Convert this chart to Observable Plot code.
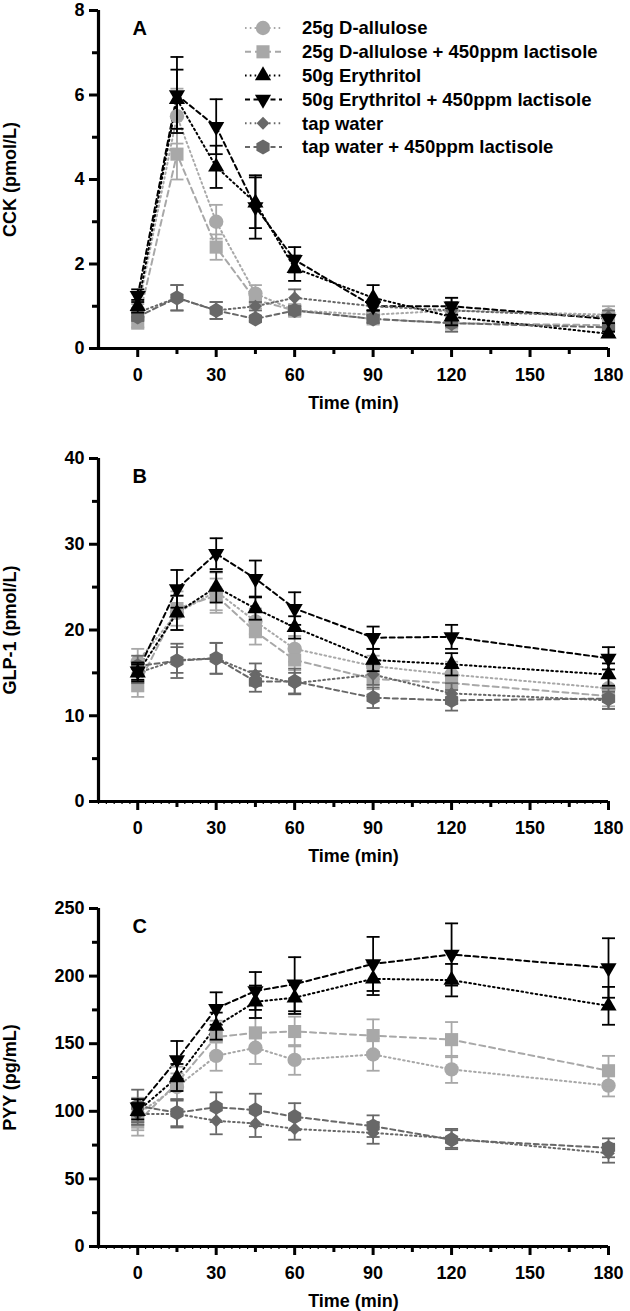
<!DOCTYPE html>
<html><head><meta charset="utf-8">
<script src="https://cdn.jsdelivr.net/npm/d3@7"></script>
<script src="https://cdn.jsdelivr.net/npm/@observablehq/plot@0.6"></script>
<style>
body{margin:0;background:#fff;}
#chart{position:relative;width:630px;height:1311px;overflow:hidden;background:#fff;}
#chart > svg{position:absolute;left:0;}
</style></head><body><div id="chart"></div>
<script>
// ---------- data ----------
const times = [0, 15, 30, 45, 60, 90, 120, 180];
const seriesNames = [
  "25g D-allulose",
  "25g D-allulose + 450ppm lactisole",
  "50g Erythritol",
  "50g Erythritol + 450ppm lactisole",
  "tap water",
  "tap water + 450ppm lactisole"
];
// CCK (pmol/L): rows follow seriesNames
const cckMean = [
  [0.9, 5.5, 3.0, 1.3, 0.9, 0.8, 0.9, 0.8],
  [0.6, 4.6, 2.4, 1.15, 0.9, 0.7, 0.6, 0.55],
  [1.0, 5.9, 4.3, 3.45, 1.9, 1.2, 0.75, 0.35],
  [1.25, 6.0, 5.25, 3.35, 2.1, 1.0, 1.0, 0.7],
  [0.85, 1.2, 0.9, 1.0, 1.2, 1.0, 0.9, 0.75],
  [0.75, 1.2, 0.9, 0.7, 0.9, 0.7, 0.6, 0.5]
];
const cckSem = [
  [0.15, 0.65, 0.4, 0.2, 0.15, 0.1, 0.3, 0.2],
  [0.1, 0.6, 0.3, 0.2, 0.1, 0.1, 0.2, 0.15],
  [0.15, 0.7, 0.5, 0.6, 0.3, 0.3, 0.2, 0.05],
  [0.15, 0.9, 0.65, 0.75, 0.3, 0.1, 0.2, 0.1],
  [0.1, 0.3, 0.2, 0.1, 0.2, 0.1, 0.2, 0.15],
  [0.1, 0.3, 0.2, 0.05, 0.1, 0.1, 0.2, 0.1]
];
// GLP-1 (pmol/L)
const glpMean = [
  [16.3, 22.0, 24.5, 21.0, 17.8, 15.8, 14.8, 13.2],
  [13.5, 22.5, 24.0, 19.8, 16.5, 14.3, 13.8, 12.3],
  [15.0, 22.0, 25.0, 22.5, 20.3, 16.5, 16.0, 14.8],
  [15.2, 24.8, 28.9, 26.0, 22.5, 19.1, 19.2, 16.7],
  [15.0, 16.5, 16.7, 14.8, 13.8, 14.8, 12.6, 11.8],
  [15.8, 16.4, 16.7, 14.0, 14.0, 12.1, 11.8, 12.0]
];
const glpSem = [
  [1.5, 2.0, 2.2, 1.5, 1.5, 1.2, 1.5, 1.2],
  [1.3, 2.0, 2.0, 1.5, 1.2, 1.2, 1.3, 1.2],
  [1.0, 2.0, 1.8, 1.3, 1.3, 1.3, 1.3, 1.3],
  [1.0, 2.2, 1.8, 2.1, 1.9, 1.3, 1.4, 1.3],
  [1.2, 1.5, 1.8, 1.3, 1.2, 1.2, 1.2, 1.0],
  [1.2, 2.0, 1.8, 1.2, 1.5, 1.2, 1.2, 1.2]
];
// PYY (pg/mL)
const pyyMean = [
  [98, 118, 141, 147, 138, 142, 131, 119],
  [92, 121, 155, 158, 159, 156, 153, 130],
  [100, 125, 163, 181, 184, 198, 197, 178],
  [103, 138, 176, 189, 194, 209, 216, 206],
  [98, 98, 93, 91, 87, 84, 80, 69],
  [104, 99, 103, 101, 96, 89, 79, 73]
];
const pyySem = [
  [12, 10, 11, 12, 11, 12, 10, 8],
  [10, 12, 12, 11, 11, 12, 13, 11],
  [6, 10, 10, 12, 12, 12, 12, 14],
  [6, 14, 12, 14, 20, 20, 23, 22],
  [8, 10, 10, 10, 8, 8, 7, 7],
  [12, 10, 11, 12, 10, 8, 7, 7]
];
const xMajorTicks = [0, 30, 60, 90, 120, 150, 180];
const xMinorTicks = [15, 45, 75, 105, 135, 165];

// ---------- styles ----------
const FONT = "'Liberation Sans', Arial, Helvetica, sans-serif";
const colors = ["#a8a8a8", "#a8a8a8", "#000000", "#000000", "#686868", "#686868"];
const dashes = ["1.6,3.2", "6,4", "1.6,3.2", "5,3.5", "1.6,3.2", "5,3.5"];
const symbols = ["circle", "square", "triangle", "triangle", "diamond2", "hexagon"];
const radii = [7.2, 7.4, 6, 6, 5.8, 6.6];
const rotations = [0, 0, 0, 180, 0, 0];
const drawOrder = [0, 1, 4, 5, 2, 3];
const capSymbol = {draw(ctx) { ctx.moveTo(-6.5, 0); ctx.lineTo(6.5, 0); }};

function panel({means, sems, yDomain, yMajor, yMinor, yLabel, letter, top, height, marginTop, marginBottom, tiny}) {
  const rows = [];
  means.forEach((arr, s) => arr.forEach((m, j) => rows.push({s, t: times[j], m, e: sems[s][j]})));
  const marks = [];
  if (tiny) {
    marks.push(Plot.axisX(d3.range(-15, 181, 3), {tickSize: 3, text: null, label: null, strokeWidth: 1.2}));
  }
  marks.push(
    Plot.axisX(xMinorTicks, {tickSize: 6, text: null, label: null, strokeWidth: 3}),
    Plot.axisX(xMajorTicks, {tickSize: 9, tickPadding: 11, strokeWidth: 3, label: "Time (min)", labelAnchor: "center", labelArrow: "none", labelOffset: 60}),
    Plot.axisY(yMinor, {tickSize: 6, text: null, label: null, strokeWidth: 3}),
    Plot.axisY(yMajor, {tickSize: 9, tickPadding: 5, strokeWidth: 3, label: yLabel, labelAnchor: "center", labelArrow: "none", labelOffset: 95}),
    Plot.ruleY([yDomain[0]], {strokeWidth: 3.2}),
    Plot.ruleX([-15], {strokeWidth: 3.2})
  );
  for (let s = 0; s < 6; s++) {
    marks.push(Plot.line(rows.filter(d => d.s === s), {x: "t", y: "m", stroke: colors[s], strokeWidth: 2, strokeDasharray: dashes[s]}));
  }
  for (const s of drawOrder) {
    const r = rows.filter(d => d.s === s);
    marks.push(
      Plot.ruleX(r, {x: "t", y1: d => d.m - d.e, y2: d => d.m + d.e, stroke: colors[s], strokeWidth: 1.8}),
      Plot.dot(r, {x: "t", y: d => d.m + d.e, symbol: capSymbol, stroke: colors[s], strokeWidth: 1.8, r: 3}),
      Plot.dot(r, {x: "t", y: d => d.m - d.e, symbol: capSymbol, stroke: colors[s], strokeWidth: 1.8, r: 3}),
      Plot.dot(r, {x: "t", y: "m", symbol: symbols[s], r: radii[s], fill: colors[s], stroke: "none", rotate: rotations[s]})
    );
  }
  marks.push(Plot.text([letter], {frameAnchor: "top-left", dx: 34, dy: 10, text: d => d, fontSize: 20, fontWeight: "bold", textAnchor: "start", lineAnchor: "top"}));
  const svg = Plot.plot({
    width: 630, height, marginTop, marginLeft: 98, marginRight: 22, marginBottom,
    x: {domain: [-15, 180]},
    y: {domain: yDomain},
    style: {fontFamily: FONT, fontSize: "18px", fontWeight: "bold", color: "#000", background: "transparent", overflow: "visible"},
    marks
  });
  svg.style.top = top + "px";
  return svg;
}

const chart = document.getElementById("chart");
chart.appendChild(panel({means: cckMean, sems: cckSem, yDomain: [0, 8], yMajor: [0, 2, 4, 6, 8], yMinor: [1, 3, 5, 7], yLabel: "CCK (pmol/L)", letter: "A", top: 0, height: 418, marginTop: 10, marginBottom: 70, tiny: false}));
chart.appendChild(panel({means: glpMean, sems: glpSem, yDomain: [0, 40], yMajor: [0, 10, 20, 30, 40], yMinor: [5, 15, 25, 35], yLabel: "GLP-1 (pmol/L)", letter: "B", top: 450, height: 421, marginTop: 8, marginBottom: 70, tiny: true}));
chart.appendChild(panel({means: pyyMean, sems: pyySem, yDomain: [0, 250], yMajor: [0, 50, 100, 150, 200, 250], yMinor: [25, 75, 125, 175, 225], yLabel: "PYY (pg/mL)", letter: "C", top: 900, height: 411, marginTop: 8, marginBottom: 65, tiny: true}));

// ---------- legend (inside panel A) ----------
const leg = d3.create("svg").attr("width", 630).attr("height", 170).style("top", "0px");
seriesNames.forEach((name, i) => {
  const y = 28 + i * 23.8;
  const g = leg.append("g");
  g.append("line").attr("x1", 245).attr("x2", 282).attr("y1", y).attr("y2", y)
    .attr("stroke", colors[i]).attr("stroke-width", 2).attr("stroke-dasharray", dashes[i]);
  const symMap = {circle: d3.symbolCircle, square: d3.symbolSquare, triangle: d3.symbolTriangle, diamond2: d3.symbolDiamond2};
  let path;
  if (symbols[i] === "hexagon") {
    const rr = radii[i] * 1.1547;
    const pts = d3.range(6).map(k => { const a = Math.PI / 3 * k - Math.PI / 2; return [rr * Math.cos(a), rr * Math.sin(a)]; });
    path = "M" + pts.map(p => p.join(",")).join("L") + "Z";
  } else {
    path = d3.symbol(symMap[symbols[i]], Math.PI * radii[i] * radii[i])();
  }
  g.append("path").attr("d", path).attr("fill", colors[i])
    .attr("transform", `translate(263,${y}) rotate(${rotations[i]})`);
  g.append("text").attr("x", 302).attr("y", y).attr("dy", "0.35em")
    .attr("font-family", FONT).attr("font-size", 18.5).attr("font-weight", "bold").attr("fill", "#000")
    .text(name);
});
chart.appendChild(leg.node());
</script></body></html>
